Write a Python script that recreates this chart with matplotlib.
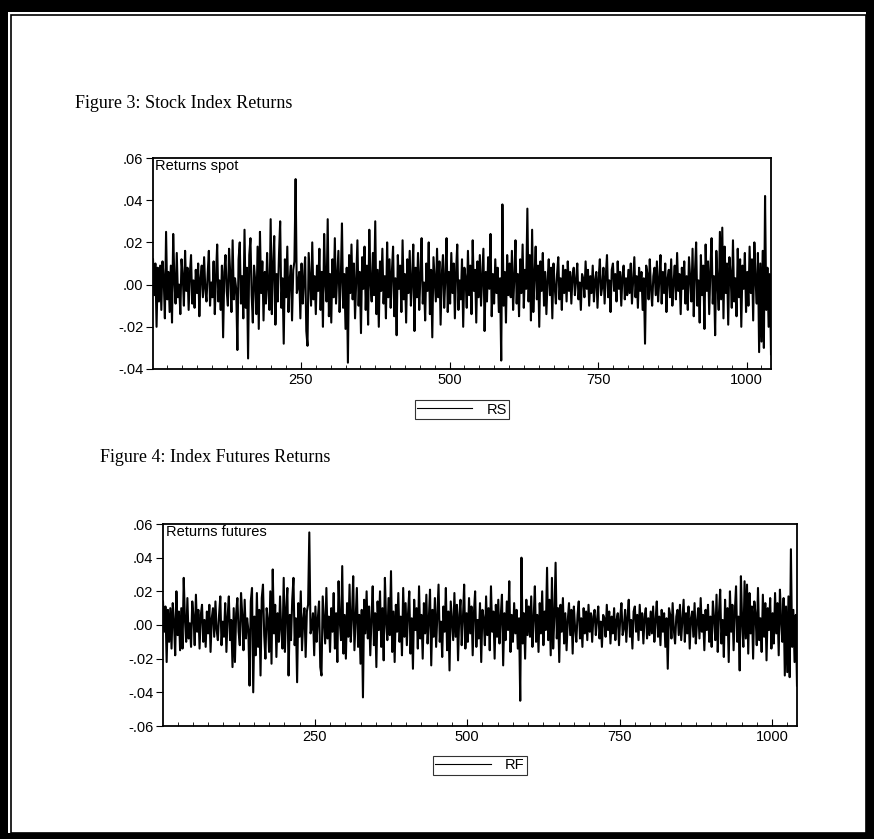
import numpy as np
import matplotlib.pyplot as plt
from matplotlib.patches import Rectangle
from matplotlib.ticker import MultipleLocator, FixedLocator

# returns in thousandths, one value every second observation (obs 1, 3, 5, ... 1041)
rs_vals = [
    12, -5, 10, -20, 8, -8, 9, -12, 11, 3, -16, 25, -7, 6, -13, 9, -18, 24, 2, -9,
    15, -6, 0, -14, 12, 4, -10, 16, -3, 8, -12, 5, 14, -9, 2, -11, 7, -4, 10, -15,
    3, 9, -6, 13, -2, -8, 5, 16, -10, 1,
    -6, 11, -14, 4, 19, -8, 2, -12, 9, -25, 6, 14, -3, -10, 17, 5, -13, 21, -7, 3,
    -2, -31, 12, 20, -9, 4, -16, 26, -11, 8, -35, 14, 22, -5, -18, 9, 2, -14, 18, -21,
    25, -4, 11, -17, 6, -9, 15, -2, -12, 31,
    -14, 8, 23, -19, 5, -8, 14, 30, -11, 3, -28, 12, -6, 18, -13, 2, 9, -17, 7, 11,
    50, -4, -1, 6, -16, 10, -9, 3, 13, -22, -29, 15, 2, -10, 20, -7, 4, -14, 9, -3,
    17, -12, 6, -20, 24, 1, -8, 31, -15, 5,
    -18, 12, -6, 22, -9, 4, 16, -13, 2, 29, -11, 5, -21, 8, -37, 14, -4, 19, -7, 10,
    -16, 3, 21, -10, 6, -23, 13, -2, 18, -12, 9, -19, 26, 1, -8, 15, -5, 30, -14, 7,
    -20, 11, -3, 17, -9, 4, -16, 20, -6, 12,
    -11, 6, 18, -15, 3, -24, 14, -2, 9, -13, 21, -7, 5, -18, 12, -4, 16, -10, 2, 19,
    -22, 8, -6, 15, -12, 4, 22, -9, 1, -17, 10, -3, 20, -14, 7, -25, 13, 2, -8, 17,
    -6, 11, -19, 5, 14, -11, 3, 22, -13, 6,
    -9, 15, -4, 10, -16, 6, 19, -12, 2, -7, 12, -20, 8, 3, -11, 16, -5, 9, -14, 21,
    -3, 7, -18, 11, -6, 14, -10, 4, 17, -22, 6, -8, 13, -2, 24, -15, 5, -9, 12, -4,
    8, -13, 3, -36, 38, -10, 6, -18, 14, -5,
    10, -6, 16, -12, 3, 21, -9, 5, -15, 12, -4, 19, -11, 7, -2, 36, -8, 14, -17, 26,
    -13, 4, 18, -7, 9, -20, 11, -3, 15, -10, 6, -14, 2, 12, -5, 8, -16, 10, -1, -9,
    5, 13, -7, 3, -12, 9, -4, 7, -8, 11,
    -3, 6, -9, 4, 8, -5, 2, 10, -7, 1, -12, 5, 3, -6, 11, -2, 7, -10, 4, -4,
    9, -8, 2, 6, -11, 3, 12, -5, -1, 8, -9, 4, 14, -6, 2, -13, 7, 10, -3, 5,
    -8, 11, -2, 6, -10, 4, 9, -7, 3, -5,
    7, -4, 10, -9, 2, 13, -6, 4, -11, 8, -3, 6, -12, 3, -28, 9, 5, -7, 12, -2,
    -10, 4, 8, -5, 11, -8, 2, 14, -9, 6, -4, 10, -13, 3, 7, -6, 12, -10, 1, 9,
    -7, 15, -3, 5, -14, 8, -2, 11, -9, 4,
    -12, 13, 3, -8, 17, -15, 6, 20, -10, 2, -18, 14, -5, 9, -21, 19, -3, 11, -14, 7,
    22, -9, 4, -24, 16, 1, -12, 25, -7, 27, -16, 18, -4, 10, -19, 13, 5, -11, 21, -8,
    3, -15, 17, -6, 12, -20, 9, -2, 15, -13,
    6, -10, 18, -4, 12, -17, 20, 2, -9, 15, -32, 10, -27, 16, -30, 42, -12, 8, -20, 5,
    -33,
]

rf_vals = [
    14, -4, 11, -22, 9, -10, 10, -14, 13, 2, -18, 20, -6, 8, -15, 10, -14, 28, 3, -10,
    16, -8, 1, -13, 14, 5, -12, 18, -4, 9, -14, 6, 12, -10, 3, -13, 8, -5, 12, -16,
    4, 10, -7, 14, -3, -9, 6, 17, -12, 2,
    -7, 13, -16, 5, 17, -9, 3, -25, 10, -22, 7, 16, -4, -12, 19, 6, -15, 15, -8, 4,
    -3, -36, 14, 22, -40, 5, -18, 19, -13, 9, -30, 16, 24, -6, -20, 10, 3, -16, 20, -23,
    33, -5, 12, -19, 7, -10, 17, -3, -14, 28,
    -16, 9, 22, -30, 6, -9, 15, 28, -12, 4, -34, 13, -7, 20, -15, 3, 10, -19, 8, 12,
    55, -5, -2, 7, -18, 11, -10, 4, 14, -25, -30, 17, 3, -11, 22, -8, 5, -16, 10, -4,
    19, -14, 7, -22, 26, 2, -9, 35, -17, 6,
    -20, 13, -7, 24, -10, 5, 29, -15, 3, 22, -13, 6, -23, 9, -43, 15, -5, 20, -8, 11,
    -18, 4, 23, -12, 7, -25, 14, -3, 20, -13, 10, -21, 28, 2, -9, 16, -6, 32, -16, 8,
    -22, 12, -4, 19, -10, 5, -18, 22, -7, 13,
    -12, 7, 20, -17, 4, -26, 15, -3, 10, -14, 23, -8, 6, -20, 13, -5, 18, -11, 3, 21,
    -24, 9, -7, 16, -13, 5, 24, -10, 2, -19, 11, -4, 22, -15, 8, -27, 14, 3, -9, 19,
    -7, 12, -21, 6, 15, -12, 4, 24, -14, 7,
    -10, 16, -5, 11, -18, 7, 20, -13, 3, -8, 13, -22, 9, 4, -12, 17, -6, 10, -15, 23,
    -4, 8, -20, 12, -7, 15, -11, 5, 18, -24, 7, -9, 14, -3, 26, -16, 6, -10, 13, -5,
    9, -14, 4, -45, 40, -11, 7, -20, 15, -6,
    11, -7, 17, -13, 4, 23, -10, 6, -16, 13, -5, 20, -12, 8, -3, 34, -9, 15, -18, 28,
    -14, 5, 37, -8, 10, -22, 12, -4, 16, -11, 7, -15, 3, 13, -6, 9, -17, 11, -2, -10,
    6, 14, -8, 4, -13, 10, -5, 8, -9, 12,
    -4, 7, -10, 5, 9, -6, 3, 11, -8, 2, -13, 6, 4, -7, 12, -3, 8, -11, 5, -5,
    10, -9, 3, 7, -12, 4, 13, -6, -2, 9, -10, 5, 15, -7, 3, -14, 8, 11, -4, 6,
    -9, 12, -3, 7, -11, 5, 10, -8, 4, -6,
    8, -5, 11, -10, 3, 14, -7, 5, -12, 9, -4, 7, -13, 4, -26, 10, 6, -8, 13, -3,
    -11, 5, 9, -6, 12, -9, 3, 15, -10, 7, -5, 11, -14, 4, 8, -7, 13, -11, 2, 10,
    -8, 16, -4, 6, -15, 9, -3, 12, -10, 5,
    -13, 14, 4, -9, 18, -16, 7, 21, -11, 3, -19, 15, -6, 10, -22, 20, -4, 12, -15, 8,
    23, -10, 5, -27, 29, 2, -13, 26, -8, 24, -17, 19, -5, 11, -20, 14, 6, -12, 22, -9,
    4, -16, 18, -7, 13, -21, 10, -3, 16, -14,
    7, -11, 19, -5, 13, -18, 21, 3, -10, 16, -30, 11, -28, 17, -31, 45, -13, 9, -22, 6,
    -36,
]

obs = np.arange(1, 2 * len(rs_vals), 2)
rs = np.array(rs_vals) / 1000.0
rf = np.array(rf_vals) / 1000.0

W, H = 874, 839
fig = plt.figure(figsize=(W / 100, H / 100), dpi=100)


def box(x0, y0, x1, y1):
    # pixel box (top-left origin) -> figure fraction
    return [x0 / W, 1 - y1 / H, (x1 - x0) / W, (y1 - y0) / H]


# page frame
fig.patches.append(Rectangle((0, 0), 1, 1, transform=fig.transFigure,
                             facecolor='black', zorder=-3))
b = box(8, 12, 866, 833)
fig.patches.append(Rectangle((b[0], b[1]), b[2], b[3], transform=fig.transFigure,
                             facecolor='white', zorder=-2))
b = box(11, 15, 866, 833)
fig.patches.append(Rectangle((b[0], b[1]), b[2], b[3], transform=fig.transFigure,
                             facecolor='none', edgecolor='black', lw=1.2, zorder=-1))

sans = 'Liberation Sans'
serif = 'Liberation Serif'
fs = 10.5


def yfmt(v):
    s = f"{v:.2f}"
    return s.replace('0.', '.')


def panel(rect, y, ylo, yhi, label, name):
    ax = fig.add_axes(rect)
    ax.plot(obs, y, color='black', lw=1.5, label=name)
    ax.set_xlim(1, 1041)
    ax.set_ylim(ylo, yhi)
    yt = np.round(np.arange(ylo, yhi + 0.001, 0.02), 2)
    ax.set_yticks(yt)
    ax.set_yticklabels([yfmt(v) for v in yt], family=sans, fontsize=fs)
    ax.xaxis.set_major_locator(FixedLocator([250, 500, 750, 1000]))
    ax.xaxis.set_minor_locator(MultipleLocator(25))
    for t in ax.get_xticklabels():
        t.set_family(sans)
        t.set_fontsize(fs)
    ax.tick_params(axis='x', which='major', direction='in', length=5, width=0.8, pad=3)
    ax.tick_params(axis='x', which='minor', direction='in', length=3, width=0.6)
    ax.tick_params(axis='y', direction='out', length=5, width=0.8, pad=2)
    for s in ax.spines.values():
        s.set_linewidth(1.3)
    ax.text(0.004, 0.995, label, transform=ax.transAxes, ha='left', va='top',
            family=sans, fontsize=fs)
    leg = ax.legend(loc='upper center', bbox_to_anchor=(0.5, -0.135), ncol=1,
                    frameon=True, fancybox=False, edgecolor='black',
                    handlelength=3.8, handletextpad=1.0, borderpad=0.15,
                    borderaxespad=0.2, prop={'family': sans, 'size': fs})
    leg.get_frame().set_linewidth(0.8)
    leg.legend_handles[0].set_linewidth(0.8)
    return ax


fig.text(75 / W, 1 - 104 / H, "Figure 3: Stock Index Returns", family=serif,
         fontsize=13, ha='left', va='center')
panel(box(153, 158, 771, 369), rs, -0.04, 0.06, "Returns spot", "RS")

fig.text(100 / W, 1 - 458 / H, "Figure 4: Index Futures Returns", family=serif,
         fontsize=13, ha='left', va='center')
panel(box(163, 524, 797, 726), rf, -0.06, 0.06, "Returns futures", "RF")

fig.savefig('out.png', dpi=100)
